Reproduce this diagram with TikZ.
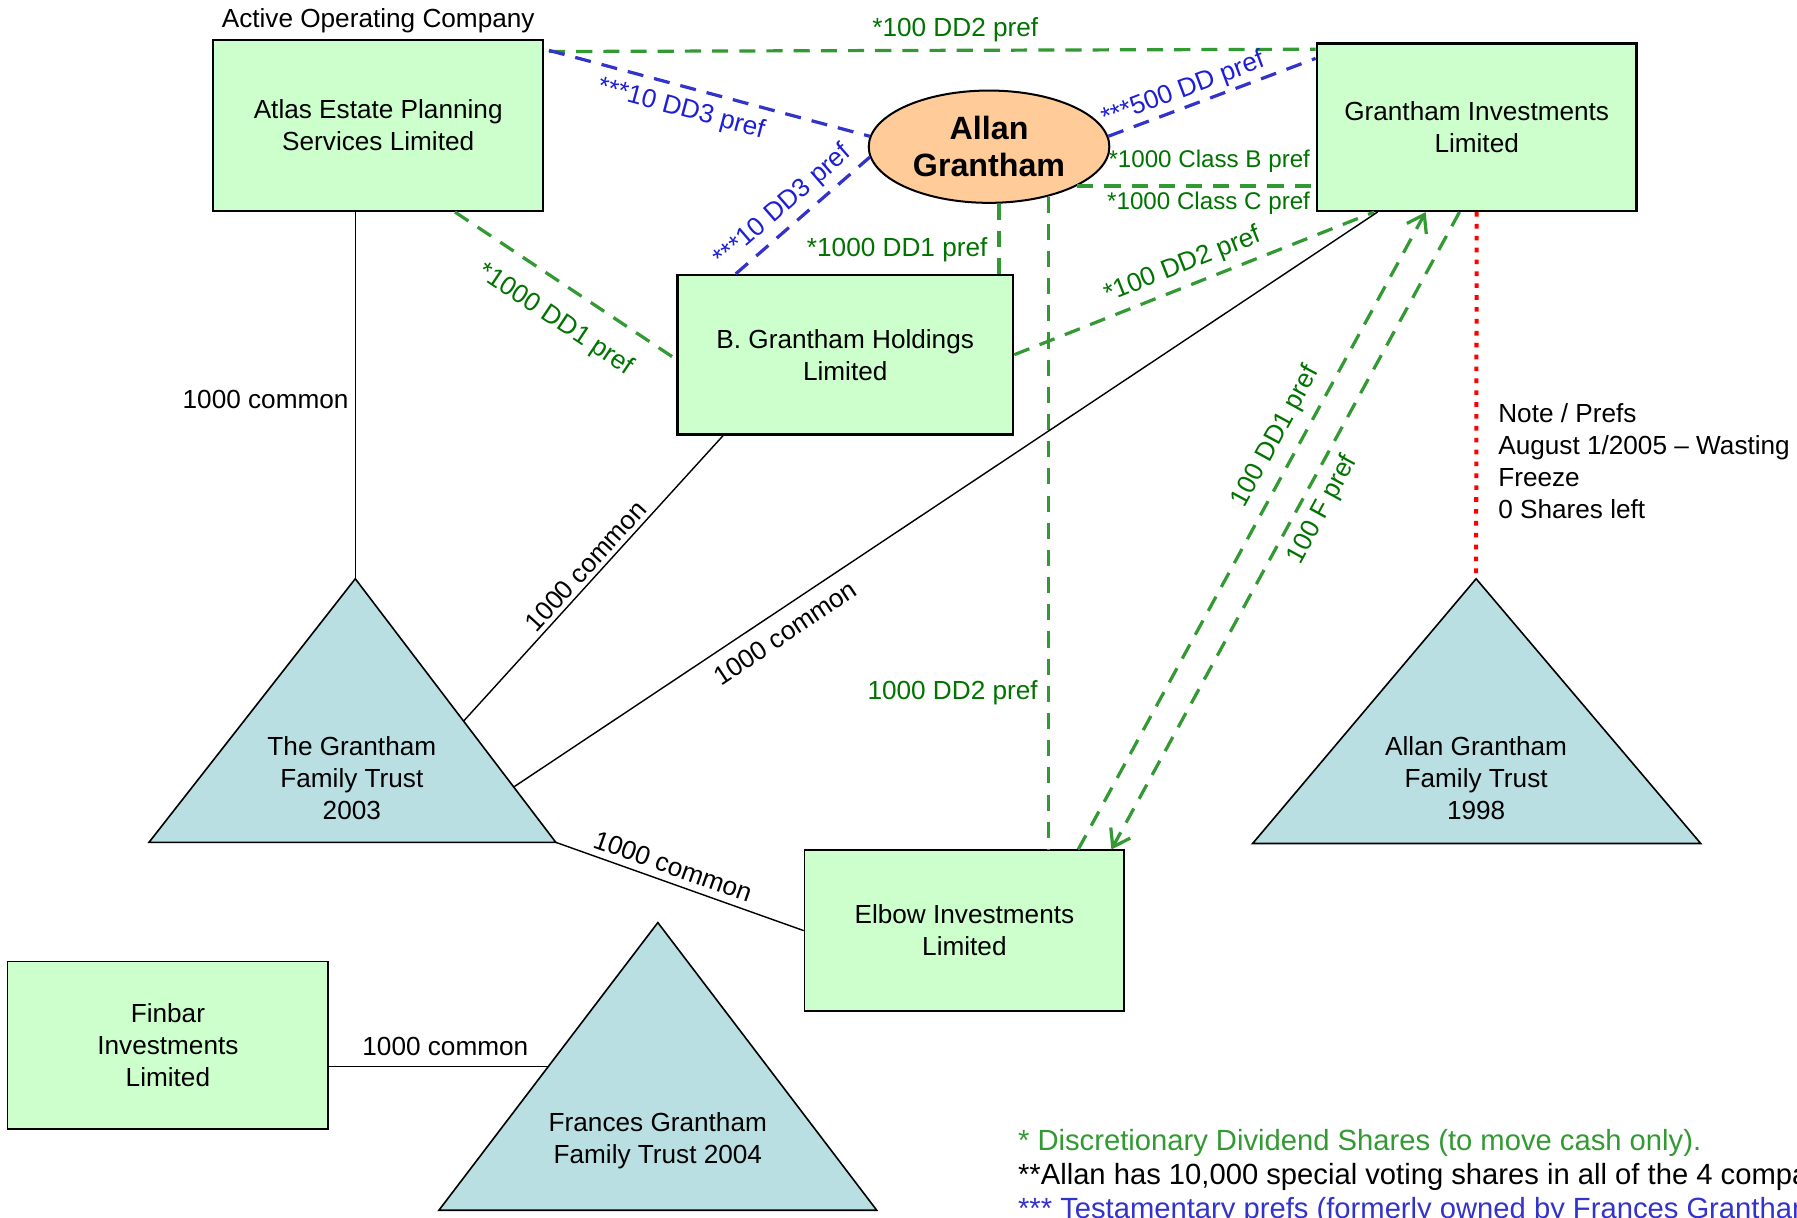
\documentclass[tikz,border=0pt]{standalone}
\usepackage{fontspec}
\setmainfont{Liberation Sans}
\usetikzlibrary{shapes.geometric,calc,arrows.meta,positioning}

\definecolor{boxgreen}{RGB}{204,255,204}
\definecolor{peach}{RGB}{255,204,153}
\definecolor{trustblue}{RGB}{185,223,227}
\definecolor{linegreen}{RGB}{51,153,51}
\definecolor{textgreen}{RGB}{0,115,0}
\definecolor{lineblue}{RGB}{51,51,204}
\definecolor{textblue}{RGB}{30,30,215}
\definecolor{notered}{RGB}{255,0,0}

\begin{document}
\begin{tikzpicture}[x=0.02cm,y=-0.02cm,
    font=\fontsize{13}{15.9}\selectfont,
    company/.style={draw,fill=boxgreen,line width=1.2pt,align=center,inner sep=0pt},
    trust/.style={draw,fill=trustblue,line width=0.8pt},
    gdash/.style={linegreen,line width=1.6pt,dash pattern=on 8pt off 5.5pt},
    bdash/.style={lineblue,line width=1.6pt,dash pattern=on 8pt off 5.5pt},
    own/.style={line width=0.7pt},
    glabel/.style={textgreen,inner sep=3.5pt},
    blabel/.style={textblue,inner sep=3.5pt},
    openhead/.style={-{Straight Barb[length=8pt,width=11pt]}}]
  \useasboundingbox (0,0) rectangle (1568,1062);
  \clip (0,0) rectangle (1568,1062);

  \node[company,minimum width=5.76cm,minimum height=2.98cm] (atlas)
    at (330,109.5) {Atlas Estate Planning\\Services Limited};
  \node[above,inner sep=3pt] (active) at (atlas.north) {Active Operating Company};
  \node[ellipse,draw,fill=peach,line width=1pt,minimum width=4.2cm,
    minimum height=1.96cm,inner sep=0pt,align=center,
    font=\fontsize{16}{18.2}\selectfont\bfseries] (allan)
    at (863,128) {Allan\\Grantham};
  \node[company,minimum width=5.58cm,minimum height=2.92cm] (ginv)
    at (1288.5,111) {Grantham Investments\\Limited};
  \node[company,minimum width=5.86cm,minimum height=2.78cm] (bgh)
    at (737.5,309.5) {B. Grantham Holdings\\Limited};
  \node[company,line width=0.9pt,minimum width=5.58cm,minimum height=2.8cm] (elbow)
    at (841.5,812) {Elbow Investments\\Limited};
  \node[company,line width=0.9pt,minimum width=5.6cm,minimum height=2.92cm] (finbar)
    at (146.5,912) {Finbar\\Investments\\Limited};

  \coordinate (gft top) at (310,505);
  \coordinate (gft left) at (130,735);
  \coordinate (gft right) at (485,735);
  \path[trust] (gft top) -- (gft left) -- (gft right) -- cycle;
  \node[align=center] (gft) at (307,679) {The Grantham\\Family Trust\\2003};

  \coordinate (agft top) at (1288,505);
  \coordinate (agft left) at (1093,736);
  \coordinate (agft right) at (1484,736);
  \path[trust] (agft top) -- (agft left) -- (agft right) -- cycle;
  \node[align=center] (agft) at (1288,679) {Allan Grantham\\Family Trust\\1998};

  \coordinate (frt top) at (574,805);
  \coordinate (frt left) at (383,1056);
  \coordinate (frt right) at (765,1056);
  \path[trust] (frt top) -- (frt left) -- (frt right) -- cycle;
  \node[align=center] (frt) at (574,995) {Frances Grantham\\Family Trust 2004};

  \draw[gdash] ($(atlas.north east)+(4,11)$) --
    node[glabel,above,pos=0.53] (dd2top) {*100 DD2 pref} ($(ginv.north west)+(0,6)$);
  \draw[bdash] ($(atlas.north east)+(4,10)$) --
    node[blabel,below,sloped,pos=0.43,inner sep=4.5pt] (dd3a) {***10 DD3 pref} (allan.175);
  \draw[bdash] ($(bgh.north west)+(52,0)$) --
    node[blabel,above,sloped,pos=0.45,inner sep=3pt] (dd3b) {***10 DD3 pref} (allan.185);
  \draw[bdash] (allan.5) --
    node[blabel,above,sloped,pos=0.39,inner sep=1.5pt] (dd500) {***500 DD pref}
    ($(ginv.north west)+(0,14)$);
  \draw[gdash] ($(atlas.south east)+(-78,0)$) --
    node[glabel,below,sloped,pos=0.54,inner sep=10pt] (dd1a) {*1000 DD1 pref}
    ($(bgh.west)+(0,4)$);
  \draw[gdash] (allan.280) --
    node[glabel,left,pos=0.65,inner sep=5pt] (dd1b) {*1000 DD1 pref} (allan.280 |- bgh.north);
  \draw[gdash] (allan.336) -- (allan.336 -| ginv.west)
    node[glabel,pos=1,anchor=south east,inner sep=2pt,yshift=4pt,
      font=\fontsize{12}{14}\selectfont] (classb) {*1000 Class B pref}
    node[glabel,pos=1,anchor=north east,inner sep=2pt,
      font=\fontsize{12}{14}\selectfont] (classc) {*1000 Class C pref};
  \draw[gdash] (allan.320) --
    node[glabel,left,pos=0.76,inner sep=4.5pt] (dd2e) {1000 DD2 pref} (allan.320 |- elbow.north);
  \draw[gdash] (bgh.east) --
    node[glabel,above,sloped,pos=0.49] (dd2f) {*100 DD2 pref} ($(ginv.south west)+(51,0)$);
  \draw[gdash,openhead] ($(elbow.north east)+(-41,0)$) --
    node[glabel,above,sloped,pos=0.63,inner sep=5pt] (dd1g) {100 DD1 pref}
    ($(ginv.south west)+(96,0)$);
  \draw[gdash,openhead] ($(ginv.south)+(-15,0)$) --
    node[glabel,below,sloped,pos=0.45,inner sep=4.5pt] (fpref) {100 F pref}
    ($(elbow.north east)+(-12,0)$);

  \draw[notered,line width=2pt,dash pattern=on 2.3pt off 3.6pt] (ginv.south) -- (agft top);
  \node[align=left,anchor=west,inner sep=0pt] (note) at (1307,402.5)
    {Note / Prefs\\August 1/2005 – Wasting\\Freeze\\0 Shares left};

  \draw[own] ($(atlas.south)+(-20,0)$) --
    node[left,pos=0.51,inner sep=3pt] (cm1) {1000 common} (gft top);
  \coordinate (gft m) at ($(gft top)!0.54!(gft right)$);
  \draw[own] (gft m) --
    node[above,sloped,pos=0.51,inner sep=2pt] (cm2) {1000 common} ($(bgh.south west)+(41,0)$);
  \coordinate (gft n) at ($(gft top)!0.79!(gft right)$);
  \draw[own] (gft n) --
    node[below,sloped,pos=0.30,inner sep=6pt] (cm3) {1000 common} ($(ginv.south west)+(54,0)$);
  \draw[own] (gft right) --
    node[above,sloped,pos=0.45] (cm4) {1000 common} (elbow.west);
  \coordinate (frt m) at ($(frt top)!0.5!(frt left)$);
  \draw[own] (finbar.east |- frt m) --
    node[above,pos=0.53,inner sep=5pt] (cm5) {1000 common} (frt m);

  \node[anchor=west,align=left,inner sep=0pt,font=\fontsize{14.5}{17}\selectfont] (foot)
    at (888,1027) {\textcolor{linegreen}{* Discretionary Dividend Shares (to move cash only).}\\
    **Allan has 10,000 special voting shares in all of the 4 companies\\
    \textcolor{lineblue}{*** Testamentary prefs (formerly owned by Frances Grantham}};
\end{tikzpicture}
\end{document}
